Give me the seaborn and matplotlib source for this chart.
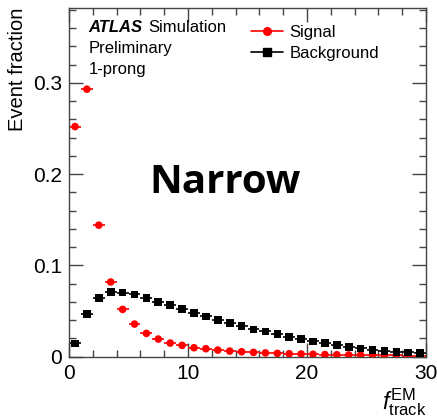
import numpy as np
import pandas as pd
import seaborn as sns
import matplotlib
matplotlib.use("Agg")
import matplotlib.pyplot as plt
from matplotlib.lines import Line2D
from matplotlib.ticker import MultipleLocator, FuncFormatter

# Bin edges of the f_track^EM histogram (30 unit-wide bins)
bin_edges = np.arange(0, 31, 1)

signal = [0.252, 0.293, 0.144, 0.0817, 0.0517, 0.0356, 0.0254, 0.0192,
          0.0148, 0.0123, 0.0097, 0.0086, 0.0071, 0.0060, 0.0053, 0.0046,
          0.0040, 0.0035, 0.0031, 0.0028, 0.0025, 0.0022, 0.0020, 0.0018,
          0.0016, 0.0015, 0.0013, 0.0012, 0.0011, 0.0010]
background = [0.0145, 0.0469, 0.0641, 0.0707, 0.0700, 0.0682, 0.0641, 0.0598,
              0.0565, 0.0524, 0.0480, 0.0441, 0.0400, 0.0371, 0.0334, 0.0298,
              0.0276, 0.0247, 0.0217, 0.0192, 0.0167, 0.0148, 0.0126, 0.0107,
              0.0090, 0.0075, 0.0064, 0.0053, 0.0046, 0.0040]

series_names = ["Signal", "Background"]
series_colors = ["#ff0000", "#000000"]
series_markers = ["o", "s"]

sns.set_theme(style="ticks")
plt.rcParams["font.family"] = ["Liberation Sans", "DejaVu Sans"]
plt.rcParams["text.color"] = "black"
plt.rcParams["axes.labelcolor"] = "black"
plt.rcParams["xtick.labelcolor"] = "black"
plt.rcParams["ytick.labelcolor"] = "black"
plt.rcParams["mathtext.fontset"] = "custom"
plt.rcParams["mathtext.rm"] = "Liberation Sans"
plt.rcParams["mathtext.it"] = "Liberation Sans:italic"

centers = 0.5 * (bin_edges[:-1] + bin_edges[1:])
half_w = 0.5 * np.diff(bin_edges)

df = pd.concat([
    pd.DataFrame({"x": centers, "y": signal, "sample": "Signal"}),
    pd.DataFrame({"x": centers, "y": background, "sample": "Background"}),
])

fig = plt.figure(figsize=(4.37, 4.19), dpi=100)
ax = fig.add_axes([0.158, 0.149, 0.817, 0.832])

# horizontal bin-width bars
for name, col in zip(series_names, series_colors):
    sub = df[df["sample"] == name]
    ax.hlines(sub["y"], sub["x"] - half_w, sub["x"] + half_w, color=col,
              lw=1.2, zorder=2)

sns.scatterplot(data=df, x="x", y="y", hue="sample", style="sample",
                hue_order=series_names, style_order=series_names,
                palette=dict(zip(series_names, series_colors)),
                markers=dict(zip(series_names, series_markers)),
                s=30, edgecolor="none", legend=False, ax=ax, zorder=3)

ax.set_xlim(0, 30)
ax.set_ylim(0, 0.382)
ax.xaxis.set_major_locator(MultipleLocator(10))
ax.xaxis.set_minor_locator(MultipleLocator(2))
ax.yaxis.set_major_locator(MultipleLocator(0.1))
ax.yaxis.set_minor_locator(MultipleLocator(0.02))
ax.yaxis.set_major_formatter(FuncFormatter(
    lambda v, p: "0" if abs(v) < 1e-9 else f"{v:.1f}"))

ax.tick_params(which="both", direction="in", top=True, right=True,
               labelsize=15, color="#444444", width=1.0)
ax.tick_params(which="major", length=10, pad=5)
ax.tick_params(which="minor", length=5)
for sp in ax.spines.values():
    sp.set_color("#444444")
    sp.set_linewidth(1.0)

ax.set_ylabel("Event fraction", fontsize=14.5, loc="top", labelpad=4)
ax.set_xlabel(r"$\mathit{f}_{\mathrm{track}}^{\mathrm{EM}}$", fontsize=17,
              loc="right", labelpad=3)

# labels
txt_size = 12
ax.text(0.054, 0.931, "ATLAS", transform=ax.transAxes, fontsize=txt_size,
        fontweight="bold", fontstyle="italic", va="baseline")
ax.text(0.221, 0.931, "Simulation", transform=ax.transAxes, fontsize=txt_size,
        va="baseline")
ax.text(0.054, 0.872, "Preliminary", transform=ax.transAxes, fontsize=txt_size,
        va="baseline")
ax.text(0.054, 0.811, "1-prong", transform=ax.transAxes, fontsize=txt_size,
        va="baseline")

handles = [Line2D([], [], color=c, marker=m, markersize=5.5, lw=1.2)
           for c, m in zip(series_colors, series_markers)]
ax.legend(handles, series_names, loc="upper left",
          bbox_to_anchor=(0.478, 0.985), frameon=False, fontsize=txt_size,
          handlelength=1.9, handletextpad=0.4, labelspacing=0.35,
          borderaxespad=0.3)

ax.text(0.437, 0.50, "Narrow", transform=ax.transAxes, fontsize=29,
        fontweight="bold", family=["Open Sans", "DejaVu Sans"],
        color="black", ha="center", va="center")

fig.savefig("out.png", dpi=100)
